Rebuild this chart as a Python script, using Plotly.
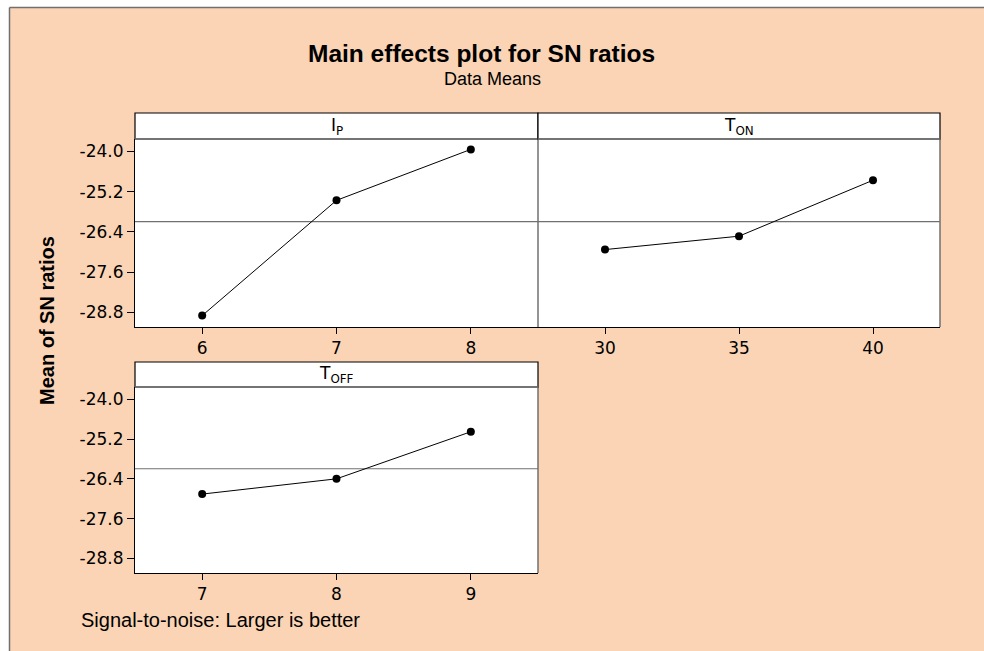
import plotly.graph_objects as go

W, H = 984, 651

# ---------------- data ----------------
ip_levels = [6, 7, 8]
ip_sn = [-28.90, -25.46, -23.94]
ton_levels = [30, 35, 40]
ton_sn = [-26.93, -26.53, -24.86]
toff_levels = [7, 8, 9]
toff_sn = [-26.86, -26.40, -24.98]
y_tick_vals = [-24.0, -25.2, -26.4, -27.6, -28.8]
y_tick_text = ["-24.0", "-25.2", "-26.4", "-27.6", "-28.8"]
panel_titles = ["I<sub>P</sub>", "T<sub>ON</sub>", "T<sub>OFF</sub>"]

grand_mean = (sum(ip_sn) + sum(ton_sn) + sum(toff_sn)) / 9.0

PEACH = "#FAD4B4"
GREY = "#707070"
TICKFONT = dict(family="DejaVu Sans", size=17, color="black")


def fx(px):
    return px / W


def fy(py):
    return 1 - py / H


# panel boxes in pixels: (x0, x1, plot_top, plot_bottom, strip_top)
panels = [
    (135, 538, 139, 327, 113),
    (538, 940, 139, 327, 113),
    (135, 538, 387, 573, 362),
]
xranges = [[5.5, 8.5], [27.5, 42.5], [6.5, 9.5]]
yrange = [-29.24, -23.63]

fig = go.Figure()
series = [(ip_levels, ip_sn), (ton_levels, ton_sn), (toff_levels, toff_sn)]
layout_axes = {}
shapes = []
annotations = []

# white outer margin (left / top) with grey frame line
shapes.append(dict(type="rect", xref="paper", yref="paper",
                   x0=-0.01, x1=fx(9.5), y0=-0.01, y1=1.01,
                   fillcolor="white", line=dict(width=0), layer="below"))
shapes.append(dict(type="rect", xref="paper", yref="paper",
                   x0=-0.01, x1=1.01, y0=fy(7.5), y1=1.01,
                   fillcolor="white", line=dict(width=0), layer="below"))
shapes.append(dict(type="line", xref="paper", yref="paper",
                   x0=fx(9.5), x1=fx(9.5), y0=-0.01, y1=fy(7.5),
                   line=dict(color=GREY, width=1.5)))
shapes.append(dict(type="line", xref="paper", yref="paper",
                   x0=fx(9.5), x1=1.01, y0=fy(7.5), y1=fy(7.5),
                   line=dict(color=GREY, width=1.5)))

for i, ((x0, x1, pt, pb, st), (xs, ys), xr, title) in enumerate(
        zip(panels, series, xranges, panel_titles)):
    n = "" if i == 0 else str(i + 1)
    xa, ya = "x" + n, "y" + n
    fig.add_trace(go.Scatter(
        x=xs, y=ys, xaxis=xa, yaxis=ya, mode="lines+markers",
        line=dict(color="black", width=1),
        marker=dict(color="black", size=8),
        showlegend=False, hoverinfo="x+y"))
    layout_axes["xaxis" + n] = dict(
        domain=[fx(x0), fx(x1)], range=xr, anchor=ya,
        tickvals=xs, ticktext=[str(v) for v in xs],
        ticks="outside", ticklen=6, tickcolor="black",
        showgrid=False, zeroline=False,
        showline=True, linecolor="black", linewidth=1, mirror=False,
        tickfont=TICKFONT, fixedrange=True)
    ydict = dict(
        domain=[fy(pb), fy(pt)], range=yrange, anchor=xa,
        showgrid=False, zeroline=False, mirror=False,
        fixedrange=True)
    if i == 1:
        ydict.update(showticklabels=False, ticks="", showline=False)
    else:
        ydict.update(tickvals=y_tick_vals, ticktext=y_tick_text,
                     ticks="outside", ticklen=7, tickcolor="black",
                     showline=True, linecolor="black", linewidth=1,
                     tickfont=TICKFONT)
    layout_axes["yaxis" + n] = ydict

    # right edge of the plot box (grey)
    shapes.append(dict(type="line", xref="paper", yref="paper",
                       x0=fx(x1), x1=fx(x1), y0=fy(pb), y1=fy(pt),
                       line=dict(color=GREY, width=1.5)))
    # strip (panel header)
    shapes.append(dict(type="rect", xref="paper", yref="paper",
                       x0=fx(x0), x1=fx(x1), y0=fy(pt), y1=fy(st),
                       fillcolor="white", line=dict(color="black", width=1.2)))
    shapes.append(dict(type="line", xref="paper", yref="paper",
                       x0=fx(x0), x1=fx(x1), y0=fy(pt), y1=fy(pt),
                       line=dict(color=GREY, width=1.5)))
    annotations.append(dict(xref="paper", yref="paper",
                            x=fx((x0 + x1) / 2), y=fy(pt + 1),
                            xanchor="center", yanchor="bottom",
                            text=title, showarrow=False,
                            font=dict(family="DejaVu Sans", size=17, color="black")))
    # reference line at grand mean
    shapes.append(dict(type="line", xref=xa + " domain", yref=ya,
                       x0=0, x1=1, y0=grand_mean, y1=grand_mean,
                       line=dict(color=GREY, width=1.2), layer="below"))

# titles
annotations.append(dict(xref="paper", yref="paper", x=fx(481), y=fy(53),
                        xanchor="center", yanchor="middle", showarrow=False,
                        text="<b>Main effects plot for SN ratios</b>",
                        font=dict(family="Liberation Sans", size=24.5, color="black")))
annotations.append(dict(xref="paper", yref="paper", x=fx(492), y=fy(79),
                        xanchor="center", yanchor="middle", showarrow=False,
                        text="Data Means",
                        font=dict(family="Liberation Sans", size=18, color="black")))
annotations.append(dict(xref="paper", yref="paper", x=fx(47), y=fy(321),
                        xanchor="center", yanchor="middle", showarrow=False,
                        textangle=-90, text="<b>Mean of SN ratios</b>",
                        font=dict(family="Liberation Sans", size=20, color="black")))
annotations.append(dict(xref="paper", yref="paper", x=fx(79), y=fy(620),
                        xanchor="left", yanchor="middle", showarrow=False,
                        text="Signal-to-noise: Larger is better",
                        font=dict(family="Liberation Sans", size=20, color="black")))

fig.update_layout(
    width=W, height=H, margin=dict(l=0, r=0, t=0, b=0),
    paper_bgcolor=PEACH, plot_bgcolor="white",
    shapes=shapes, annotations=annotations, **layout_axes)

fig.write_html("out.html", config={"displayModeBar": False})
